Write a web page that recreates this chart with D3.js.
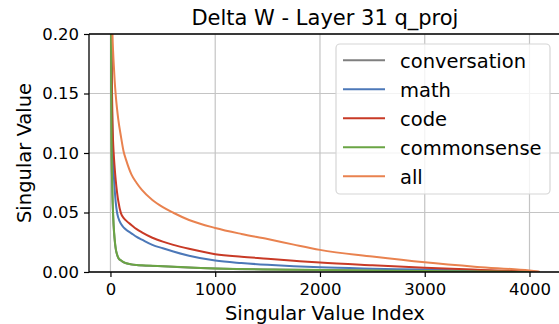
<!DOCTYPE html>
<html>
<head>
<meta charset="utf-8">
<script src="https://cdn.jsdelivr.net/npm/d3@7"></script>
<style>
  body { margin: 0; background: #fff; }
  text { font-family: "DejaVu Sans", sans-serif; fill: #000; }
</style>
</head>
<body>
<div id="chart"></div>
<script>
var indices = [0, 5, 10, 15, 20, 25, 30, 40, 50, 63, 75, 100, 125, 150, 200, 250, 300, 400, 500, 600, 750, 1000, 1250, 1500, 1750, 2000, 2500, 3000, 3500, 4000, 4095];

var conversation = [0.5, 0.21, 0.105, 0.078, 0.06, 0.048, 0.039, 0.027, 0.0195, 0.0145, 0.0118, 0.0096, 0.0082, 0.0073, 0.0063, 0.0058, 0.0055, 0.0051, 0.0048, 0.0044, 0.0037, 0.0029, 0.0024, 0.0021, 0.0018, 0.0016, 0.0012, 0.0009, 0.0005, 0.0001, 0];
var math = [0.5, 0.28, 0.18, 0.135, 0.11, 0.095, 0.085, 0.07, 0.059, 0.05, 0.0455, 0.0405, 0.0375, 0.0355, 0.0325, 0.0295, 0.0272, 0.0228, 0.0199, 0.0172, 0.0137, 0.0096, 0.0075, 0.006, 0.0048, 0.0039, 0.0028, 0.002, 0.0011, 0.0002, 0];
var code = [0.5, 0.3, 0.2, 0.15, 0.125, 0.11, 0.101, 0.088, 0.0775, 0.067, 0.0595, 0.0495, 0.0455, 0.0432, 0.0395, 0.036, 0.0333, 0.0288, 0.0255, 0.0228, 0.0195, 0.015, 0.0128, 0.0112, 0.0095, 0.0079, 0.0056, 0.0036, 0.0019, 0.0004, 0];
var commonsense = [0.5, 0.22, 0.11, 0.08, 0.062, 0.05, 0.04, 0.028, 0.02, 0.0148, 0.012, 0.0098, 0.0083, 0.0074, 0.0064, 0.0059, 0.0056, 0.0052, 0.0049, 0.0045, 0.0038, 0.003, 0.0025, 0.0021, 0.0019, 0.0017, 0.0013, 0.0009, 0.0005, 0.0001, 0];
var all = [0.5, 0.34, 0.265, 0.225, 0.198, 0.186, 0.177, 0.161, 0.149, 0.137, 0.128, 0.114, 0.1015, 0.094, 0.082, 0.0748, 0.069, 0.0605, 0.0545, 0.0498, 0.0437, 0.037, 0.032, 0.0277, 0.023, 0.0186, 0.013, 0.0081, 0.0043, 0.0012, 0.0002];

var seriesNames = ["conversation", "math", "code", "commonsense", "all"];
var seriesColors = ["#7f7f7f", "#4c78b8", "#c83a26", "#6aa544", "#e9824f"];
var seriesValues = [conversation, math, code, commonsense, all];

var xTicks = [0, 1000, 2000, 3000, 4000];
var yTicks = [0, 0.05, 0.1, 0.15, 0.2];

(function() {
    var width = 559, height = 324;
    var left = 89, top = 34, bottom = 272, right = 560.9;

    var svg = d3.select("#chart").append("svg")
        .attr("width", width)
        .attr("height", height);

    var x = d3.scaleLinear().domain([-204.75, 4299.75]).range([left, right]);
    var y = d3.scaleLinear().domain([0, 0.2]).range([bottom, top]);

    svg.append("defs").append("clipPath").attr("id", "plot")
        .append("rect")
        .attr("x", left).attr("y", top)
        .attr("width", right - left).attr("height", bottom - top);

    // grid
    var grid = svg.append("g");
    grid.selectAll(".gx").data(xTicks).enter().append("line")
        .attr("x1", function(d) { return x(d); })
        .attr("x2", function(d) { return x(d); })
        .attr("y1", top).attr("y2", bottom)
        .attr("stroke", "#c4c4c4").attr("stroke-width", 1.2);
    grid.selectAll(".gy").data(yTicks).enter().append("line")
        .attr("x1", left).attr("x2", right)
        .attr("y1", function(d) { return y(d); })
        .attr("y2", function(d) { return y(d); })
        .attr("stroke", "#c4c4c4").attr("stroke-width", 1.2);

    // curves
    var line = d3.line()
        .x(function(d) { return x(d[0]); })
        .y(function(d) { return y(d[1]); })
        .curve(d3.curveMonotoneX);

    var plot = svg.append("g").attr("clip-path", "url(#plot)");
    seriesValues.forEach(function(vals, i) {
        plot.append("path")
            .datum(indices.map(function(k, j) { return [k, vals[j]]; }))
            .attr("d", line)
            .attr("fill", "none")
            .attr("stroke", seriesColors[i])
            .attr("stroke-width", 2);
    });

    // axes
    var xAxis = svg.append("g").attr("transform", "translate(0," + bottom + ")")
        .call(d3.axisBottom(x).tickValues(xTicks).tickSize(5).tickPadding(6)
            .tickFormat(d3.format("d")));
    var yAxis = svg.append("g").attr("transform", "translate(" + left + ",0)")
        .call(d3.axisLeft(y).tickValues(yTicks).tickSize(5).tickPadding(5)
            .tickFormat(d3.format(".2f")));
    [xAxis, yAxis].forEach(function(a) {
        a.select(".domain").remove();
        a.selectAll("line").attr("stroke", "#000").attr("stroke-width", 1.2);
        a.selectAll("text").style("font-size", "16.5px")
            .style("font-family", "DejaVu Sans").attr("fill", "#000");
    });

    // spines
    svg.append("line").attr("x1", left).attr("x2", left).attr("y1", top).attr("y2", bottom)
        .attr("stroke", "#000").attr("stroke-width", 1.3);
    svg.append("line").attr("x1", left).attr("x2", right).attr("y1", bottom).attr("y2", bottom)
        .attr("stroke", "#000").attr("stroke-width", 1.3);
    svg.append("line").attr("x1", left).attr("x2", right).attr("y1", top).attr("y2", top)
        .attr("stroke", "#000").attr("stroke-width", 1.3);

    // titles
    svg.append("text").attr("x", (left + right) / 2).attr("y", 25)
        .attr("text-anchor", "middle").style("font-size", "21px")
        .text("Delta W - Layer 31 q_proj");
    svg.append("text").attr("x", (left + right) / 2).attr("y", 320)
        .attr("text-anchor", "middle").style("font-size", "19.5px")
        .text("Singular Value Index");
    svg.append("text")
        .attr("transform", "translate(31," + ((top + bottom) / 2) + ") rotate(-90)")
        .attr("text-anchor", "middle").style("font-size", "19.5px")
        .text("Singular Value");

    // legend
    var legend = svg.append("g");
    legend.append("rect")
        .attr("x", 336).attr("y", 44).attr("width", 214).attr("height", 150)
        .attr("rx", 4).attr("fill", "#fff").attr("fill-opacity", 0.8)
        .attr("stroke", "#d6d6d6").attr("stroke-width", 1.2);
    seriesNames.forEach(function(name, i) {
        var ry = 60.3 + i * 29;
        legend.append("line")
            .attr("x1", 343).attr("x2", 385).attr("y1", ry).attr("y2", ry)
            .attr("stroke", seriesColors[i]).attr("stroke-width", 2);
        legend.append("text").attr("x", 400).attr("y", ry + 7.3)
            .style("font-size", "19.5px").text(name);
    });
})();
</script>
</body>
</html>
